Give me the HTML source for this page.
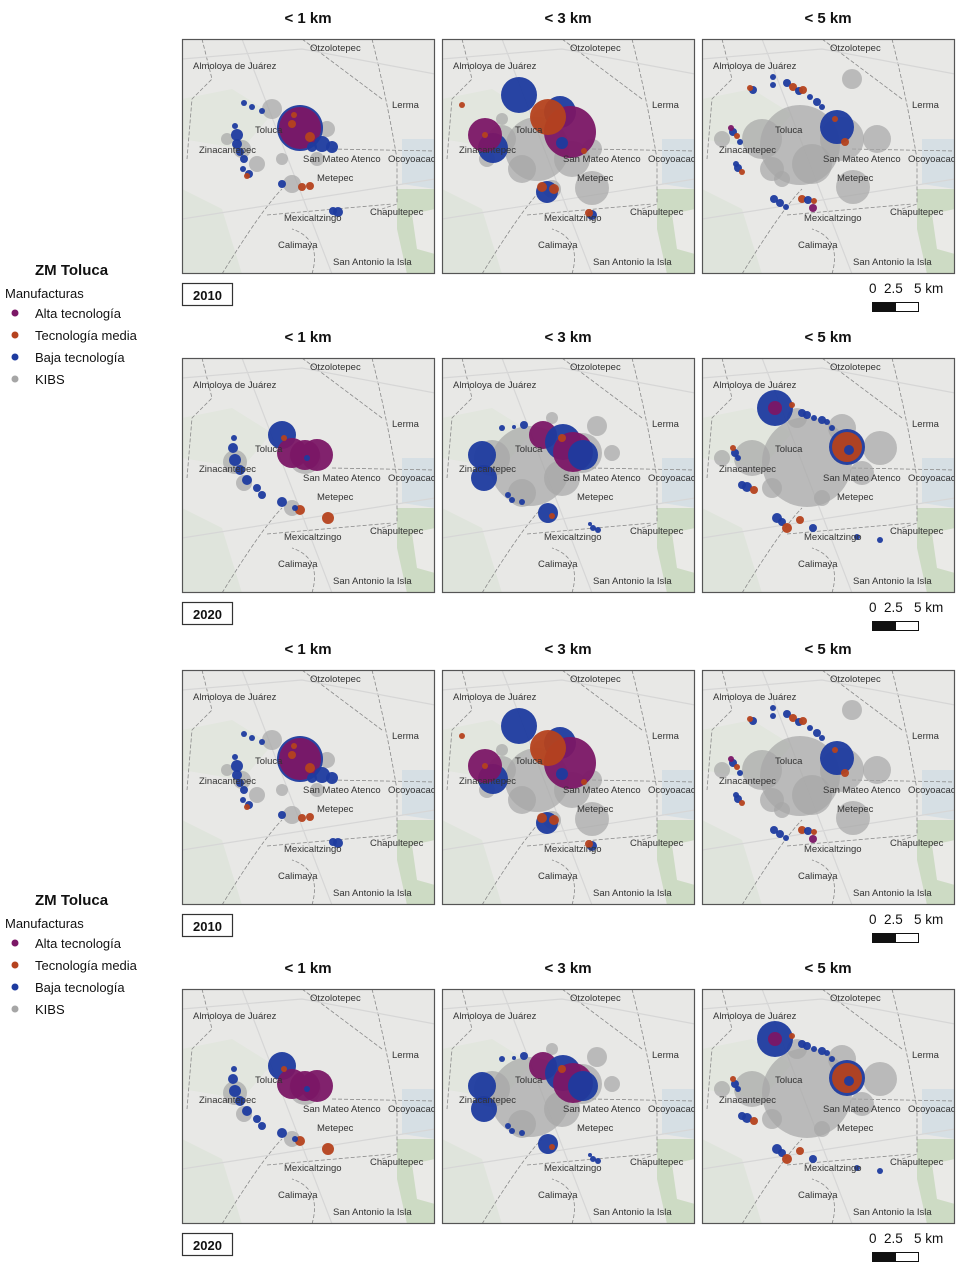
<!DOCTYPE html>
<html><head><meta charset="utf-8">
<style>
body{margin:0;background:#fff;font-family:"Liberation Sans",Arial,sans-serif;}
svg{display:block}
</style></head>
<body>
<svg id="fig" width="959" height="1284" viewBox="0 0 959 1284" xmlns="http://www.w3.org/2000/svg">
<defs>
<clipPath id="pc"><rect x="0" y="0" width="253" height="235"/></clipPath>
</defs>
</svg>
<script>
const NS='http://www.w3.org/2000/svg';
const svg=document.getElementById('fig');
const colTitles=['< 1 km','< 3 km','< 5 km'];
const years=['2010','2020','2010','2020'];
const rowTops=[39,358,670,989];
const colLefts=[182,442,702];
const catColors={A:'#7b1766',M:'#b5421e',B:'#1e3b9f',K:'#a6a6a6'};
const legendLabels=['Alta tecnología','Tecnología media','Baja tecnología','KIBS'];
const legendCats=['A','M','B','K'];
const places=[['Otzolotepec',128,12],['Almoloya de Juárez',11,30],['Lerma',210,69],['Toluca',73,94],['Zinacantepec',17,114],['San Mateo Atenco',121,123],['Ocoyoacac',206,123],['Metepec',135,142],['Mexicaltzingo',102,182],['Chapultepec',188,176],['Calimaya',96,209],['San Antonio la Isla',151,226]];
// circles: [x, y, r, cat] in panel coords
const p2010a=[[90,70,10,'K'],[60,110,9,'K'],[75,125,8,'K'],[145,90,8,'K'],[110,145,9,'K'],[135,120,7,'K'],[100,120,6,'K'],[45,100,6,'K'],
[118,89,23,'B'],[118,89,21,'A'],[128,98,5,'M'],[110,85,4,'M'],[112,76,3,'M'],[140,105,8,'B'],[150,108,6,'B'],[130,108,5,'B'],
[62,64,3,'B'],[70,68,3,'B'],[80,72,3,'B'],[55,96,6,'B'],[55,105,5,'B'],[58,113,4,'B'],[62,120,4,'B'],[61,130,3,'B'],[67,135,4,'B'],[65,137,3,'M'],[100,145,4,'B'],[120,148,4,'M'],[128,147,4,'M'],[156,173,5,'B'],[151,172,4,'B'],[53,87,3,'B']];
const p2010b=[[95,110,32,'K'],[60,100,14,'K'],[130,120,18,'K'],[80,130,14,'K'],[150,110,10,'K'],[45,120,8,'K'],[100,80,10,'K'],[150,149,17,'K'],[110,150,9,'K'],[60,80,6,'K'],
[77,56,18,'B'],[51,109,15,'B'],[43,96,17,'A'],[43,96,3,'M'],[118,73,16,'B'],[128,93,26,'A'],[106,78,18,'M'],[120,104,6,'B'],[142,112,3,'M'],[105,153,11,'B'],[100,148,5,'M'],[112,150,5,'M'],[150,176,5,'B'],[147,174,4,'M'],[20,66,3,'M']];
const p2010c=[[98,106,40,'K'],[60,100,20,'K'],[140,100,22,'K'],[110,125,20,'K'],[151,148,17,'K'],[70,130,12,'K'],[20,100,8,'K'],[175,100,14,'K'],[150,40,10,'K'],[80,140,8,'K'],
[135,88,17,'B'],[133,80,3,'M'],[143,103,4,'M'],[51,51,4,'B'],[48,49,3,'M'],[71,38,3,'B'],[71,46,3,'B'],[85,44,4,'B'],[91,48,4,'M'],[97,52,4,'B'],[101,51,4,'M'],[108,58,3,'B'],[115,63,4,'B'],[120,68,3,'B'],
[31,93,4,'B'],[29,89,3,'A'],[35,97,3,'M'],[38,103,3,'B'],[36,129,4,'B'],[40,133,3,'M'],[34,125,3,'B'],[72,160,4,'B'],[78,164,4,'B'],[84,168,3,'B'],[100,160,4,'M'],[106,161,4,'B'],[112,162,3,'M'],[111,169,4,'A']];
const p2020a=[[123,100,16,'K'],[53,104,12,'K'],[62,125,8,'K'],[110,150,8,'K'],
[100,77,14,'B'],[110,95,15,'A'],[123,97,15,'A'],[135,97,16,'A'],[102,80,3,'M'],[125,100,3,'B'],
[51,90,5,'B'],[53,102,6,'B'],[58,112,5,'B'],[65,122,5,'B'],[75,130,4,'B'],[80,137,4,'B'],[100,144,5,'B'],[118,152,5,'M'],[113,150,3,'B'],[146,160,6,'M'],[52,80,3,'B']];
const p2020b=[[88,108,40,'K'],[50,100,18,'K'],[140,95,20,'K'],[120,120,18,'K'],[80,135,14,'K'],[155,68,10,'K'],[170,95,8,'K'],[110,60,6,'K'],
[40,97,14,'B'],[42,120,13,'B'],[101,77,14,'A'],[121,84,18,'B'],[131,94,20,'A'],[141,97,15,'B'],[120,80,4,'M'],[106,155,10,'B'],[110,158,3,'M'],[151,170,3,'B'],[156,172,3,'B'],[148,166,2,'B'],[66,137,3,'B'],[70,142,3,'B'],[80,144,3,'B'],[60,70,3,'B'],[82,67,4,'B'],[72,69,2,'B']];
const p2020c=[[105,104,45,'K'],[50,100,18,'K'],[178,90,17,'K'],[140,70,14,'K'],[95,60,10,'K'],[70,130,10,'K'],[160,115,12,'K'],[120,140,8,'K'],[20,100,8,'K'],
[73,50,18,'B'],[73,50,7,'A'],[145,89,18,'B'],[145,89,15,'M'],[147,92,5,'B'],[90,47,3,'M'],[100,55,4,'B'],[105,57,4,'B'],[112,60,3,'B'],[120,62,4,'B'],[125,64,3,'B'],[130,70,3,'B'],
[33,95,4,'B'],[31,90,3,'M'],[36,100,3,'B'],[45,129,5,'B'],[40,127,4,'B'],[52,132,4,'M'],[75,160,5,'B'],[80,164,4,'B'],[85,170,5,'M'],[98,162,4,'M'],[111,170,4,'B'],[155,179,3,'B'],[178,182,3,'B']];
const panels=[[p2010a,p2010b,p2010c],[p2020a,p2020b,p2020c],[p2010a,p2010b,p2010c],[p2020a,p2020b,p2020c]];
function el(tag,attrs,parent){const e=document.createElementNS(NS,tag);for(const k in attrs)e.setAttribute(k,attrs[k]);(parent||svg).appendChild(e);return e;}
function txt(s,attrs,parent){const t=el('text',attrs,parent);t.textContent=s;return t;}
rowTops.forEach((top,ri)=>{
  colLefts.forEach((left,ci)=>{
    const h=txt(colTitles[ci],{x:left+126,y:top-16,'text-anchor':'middle','font-size':15,'font-weight':'bold',fill:'#111'});
    
    
    const g=el('g',{transform:`translate(${left},${top})`});
    
    
    const inner=el('g',{'clip-path':'url(#pc)'},g);
    el('rect',{x:0,y:0,width:253,height:235,fill:'#e8e8e6'},inner);
    el('path',{d:'M0 150 L40 170 L60 235 L0 235Z',fill:'#dfe4dc'},inner);
    el('path',{d:'M0 60 L50 50 L90 75 L60 110 L0 100Z',fill:'#e2e6de'},inner);
    el('path',{d:'M220 100 L253 100 L253 150 L220 145Z',fill:'#d6dfe4'},inner);
    el('path',{d:'M215 150 L253 150 L253 235 L225 235 L215 190Z',fill:'#cddbc4'},inner);
    el('path',{d:'M230 175 L253 170 L253 215 L235 210Z',fill:'#eaeae7'},inner);
    el('path',{d:'M190 0 Q205 60 215 120 L215 165 L200 170 M150 110 L253 112 M85 176 L210 165 M130 235 Q140 200 110 190 M20 0 L30 40 L10 60 L5 120 M40 235 Q80 170 100 150 M120 0 L200 60',fill:'none',stroke:'#8a8a8a','stroke-width':0.8,'stroke-dasharray':'4 2'},inner);
    el('path',{d:'M0 20 L120 10 L253 35 M60 0 L150 235 M0 180 L253 140',fill:'none',stroke:'#d6d6d6','stroke-width':1.2},inner);
    panels[ri][ci].forEach(c=>{
      const cc=el('circle',{cx:c[0],cy:c[1],r:c[2],fill:catColors[c[3]],'fill-opacity':c[3]==='K'?0.7:0.95},inner);
      
      
    });
    places.forEach(p=>{
      const t=txt(p[0],{x:p[1],y:p[2],'font-size':9.5,fill:'#333'},inner);
      
      
    });
    el('rect',{x:0.5,y:0.5,width:252,height:234,fill:'none',stroke:'#555','stroke-width':1.2},g);
  });
  const yb=el('g',{});
  
  
  el('rect',{x:182.5,y:top+244.5,width:50,height:22,fill:'#fff',stroke:'#333','stroke-width':1.2},yb);
  txt(years[ri],{x:207.5,y:top+261,'text-anchor':'middle','font-size':13,'font-weight':'bold',fill:'#111'},yb);
  const sb=el('g',{});
  
  
  txt('0',{x:869,y:top+254,'font-size':13.5,fill:'#111'},sb);
  txt('2.5',{x:884,y:top+254,'font-size':13.5,fill:'#111'},sb);
  txt('5 km',{x:914,y:top+254,'font-size':13.5,fill:'#111'},sb);
  el('rect',{x:872.5,y:top+263.5,width:23,height:9,fill:'#111',stroke:'#111'},sb);
  el('rect',{x:895.5,y:top+263.5,width:23,height:9,fill:'#fff',stroke:'#111'},sb);
});
[0,630].forEach(off=>{
  const lg=el('g',{transform:`translate(0,${off})`});
  
  
  txt('ZM Toluca',{x:35,y:275,'font-size':15,'font-weight':'bold',fill:'#111'},lg);
  txt('Manufacturas',{x:5,y:298,'font-size':13,fill:'#111'},lg);
  legendLabels.forEach((l,i)=>{
    const e=el('g',{},lg);
    
    
    el('circle',{cx:15,cy:313+i*22,r:3.5,fill:catColors[legendCats[i]]},e);
    txt(l,{x:35,y:318+i*22,'font-size':13,fill:'#111'},e);
  });
});
</script>
</body></html>
